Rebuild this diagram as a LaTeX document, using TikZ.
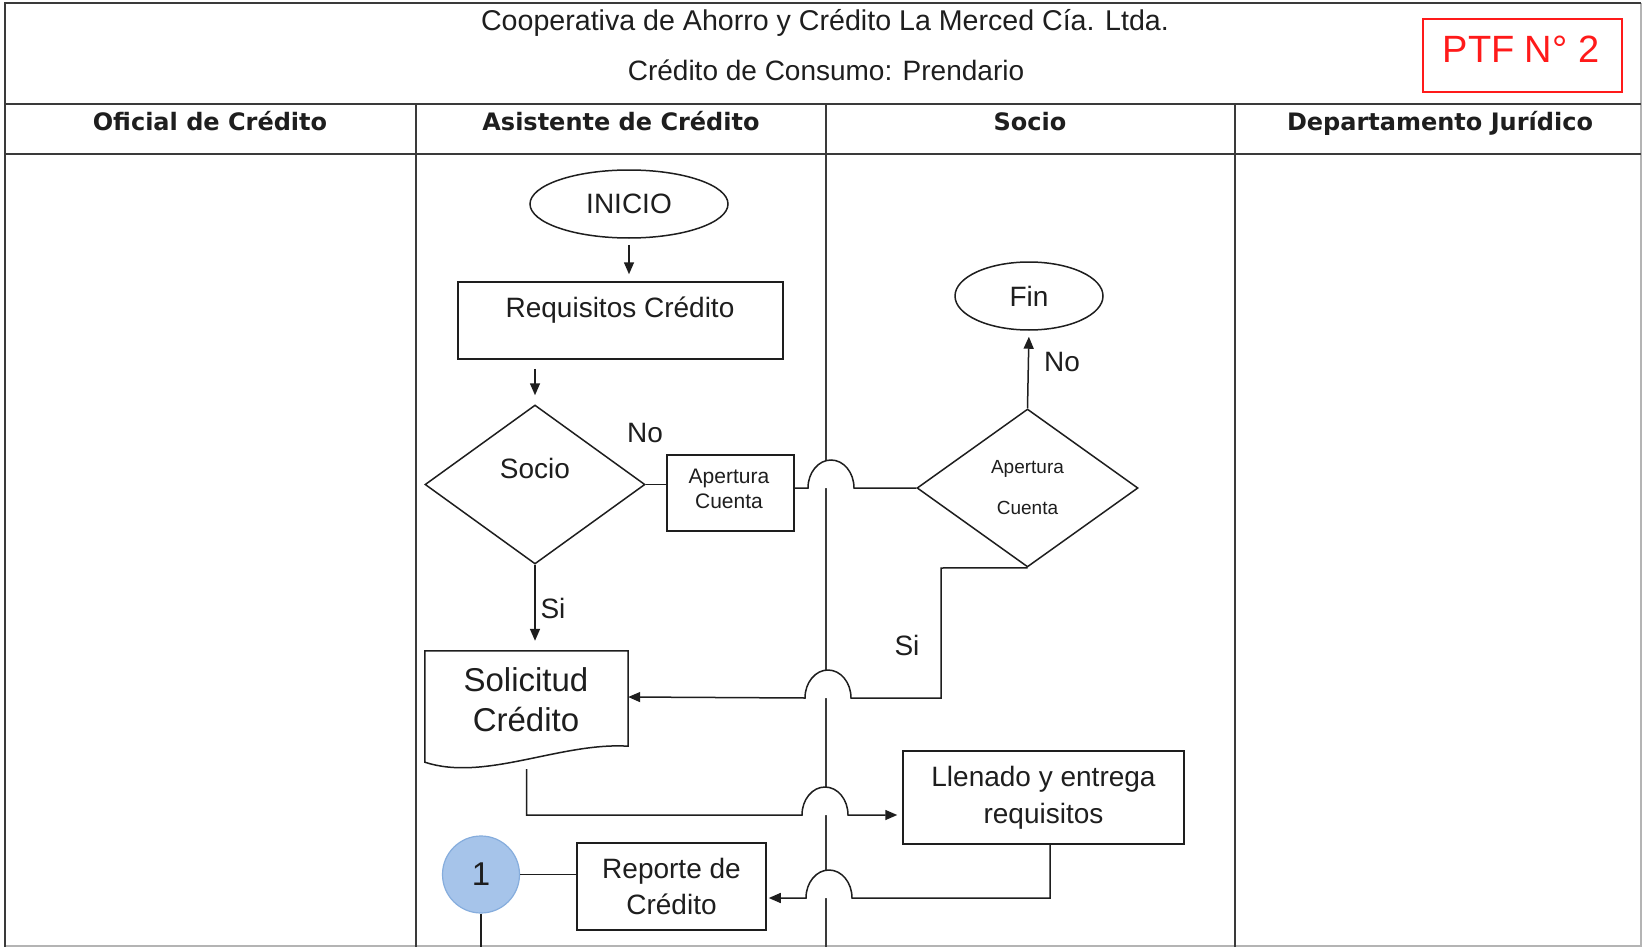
\documentclass[tikz,border=0pt]{standalone}
\usepackage{fontspec}
\setmainfont{Liberation Sans}
\newfontfamily\hdrfont{DejaVu Sans}
\usetikzlibrary{shapes.geometric,arrows.meta}
\definecolor{ink}{HTML}{1E1E1E}
\definecolor{rule}{HTML}{3A3A3A}
\definecolor{edgegray}{HTML}{B4B4B4}
\definecolor{ptfred}{HTML}{FF1A1A}
\definecolor{bubble}{HTML}{A6C4EA}
\definecolor{bubbleline}{HTML}{86ADDD}
\begin{document}
\begin{tikzpicture}[x=1pt,y=-1pt,
  txt/.style={font=\fontsize{28}{36}\selectfont, inner sep=0pt, align=center, text=ink},
  small/.style={font=\fontsize{21}{25}\selectfont, inner sep=0pt, align=center, text=ink},
  tiny/.style={font=\fontsize{19}{41}\selectfont, align=center, text=ink},
  hdr/.style={font=\hdrfont\bfseries\fontsize{24}{28}\selectfont, inner sep=0pt, text=ink},
  frame/.style={line width=2pt, draw=rule},
  lane/.style={line width=1.8pt, draw=rule},
  outline/.style={line width=1.5pt, draw=ink},
  box/.style={outline, rectangle, inner sep=0pt, align=center, text=ink,
    font=\fontsize{28}{36}\selectfont},
  term/.style={outline, ellipse, inner sep=0pt, text=ink, font=\fontsize{28}{36}\selectfont},
  dec/.style={outline, diamond, inner sep=0pt},
  conn/.style={line width=1.5pt, draw=ink},
  arr/.style={conn, -{Triangle[length=12pt,width=10pt]}},
]
\path[use as bounding box] (0,0) rectangle (1643,947);
\fill[white] (0,0) rectangle (1643,947);

% table frame and swimlane grid
\draw[line width=1.2pt, draw=edgegray] (1641,3) -- (1641,946) -- (5,946);
\draw[frame] (5,947) -- (5,3) -- (1641,3);
\draw[frame] (5,104) -- (1641,104);
\draw[frame] (5,154) -- (1641,154);
\foreach \x in {416,826,1235} \draw[lane] (\x,104) -- (\x,947);

% title block
\node[txt, anchor=base, font=\fontsize{28.6}{36}\selectfont] (t1) at (825,31) {Cooperativa de Ahorro y Crédito La Merced Cía. Ltda.};
\node[txt, anchor=base] (t2) at (826,81) {Crédito de Consumo: Prendario};
\node[draw=ptfred, line width=1.5pt, minimum width=199pt, minimum height=73pt, inner sep=0pt] (ptf) at (1522.5,55.5) {};
\node[anchor=base, inner sep=0pt, text=ptfred, font=\fontsize{38}{40}\selectfont] (ptft) at (1521,63) {PTF N° 2};

% lane headers
\node[hdr, anchor=base] (h1) at (210,131) {Oficial de Crédito};
\node[hdr, anchor=base] (h2) at (621,131) {Asistente de Crédito};
\node[hdr, anchor=base] (h3) at (1030,131) {Socio};
\node[hdr, anchor=base] (h4) at (1440,131) {Departamento Jurídico};

% flow shapes
\node[term, minimum width=198pt, minimum height=68pt] (inicio) at (629,204) {INICIO};
\node[box, minimum width=325pt, minimum height=77pt] (req) at (620.5,320.5) {};
\node[txt] (reqt) at (620,310) {Requisitos Crédito};
\node[dec, minimum width=220pt, minimum height=159pt] (socio) at (535,484.5) {};
\node[txt] (sociot) at (535,468) {Socio};
\node[box, minimum width=127pt, minimum height=76pt] (ap1) at (730.5,493) {};
\node[small] (ap1t) at (729,489) {Apertura\\Cuenta};
\node[dec, tiny, minimum width=221pt, minimum height=158pt] (ap2) at (1027.5,488) {Apertura\\Cuenta};
\node[term, minimum width=148pt, minimum height=68pt] (fin) at (1029,296) {Fin};

% document shape
\node[minimum width=203pt, minimum height=111pt, inner sep=0pt] (solic) at (526.5,706.5) {};
\draw[outline] (solic.south west) -- (solic.north west) -- (solic.north east)
  -- ([yshift=16pt]solic.south east) .. controls (560,742) and (485,782) .. (solic.south west) -- cycle;
\node[txt, font=\fontsize{33}{40}\selectfont] (solt) at (526,700) {Solicitud\\Crédito};

\node[box, minimum width=281pt, minimum height=93pt, font=\fontsize{28}{37}\selectfont] (llen) at (1043.5,797.5) {Llenado y entrega\\requisitos};
\node[box, minimum width=189pt, minimum height=87pt] (rep) at (671.5,886.5) {Reporte de\\Crédito};
\node[circle, fill=bubble, draw=bubbleline, line width=1.2pt, minimum size=77pt, inner sep=0pt,
  text=ink, font=\fontsize{33}{36}\selectfont] (one) at (481,874.5) {1};
\coordinate (oneEnd) at (481,947);

% white masks under line hops
\foreach \cx/\cy in {831/488, 828/698, 825/815, 829/898}
  \fill[white] ({\cx-23},\cy) arc[start angle=180, end angle=360, x radius=23, y radius=28] -- cycle;

% connectors
\draw[arr, shorten <=6pt, shorten >=7pt] (inicio.south) -- (inicio.south |- req.north);
\draw[arr, shorten <=9pt, shorten >=9pt] (socio.north |- req.south) -- (socio.north);
\draw[conn] (socio.east) -- (socio.east -| ap1.west);
\draw[conn] (ap1.east |- ap2.west) -- (808,488)
  arc[start angle=180, end angle=360, x radius=23, y radius=28] -- (ap2.west);
\draw[arr, shorten >=6pt] (ap2.north) -- (fin.south);
\draw[arr, shorten >=10pt] (socio.south) -- (socio.south |- solic.north);
\draw[arr] (ap2.south) -- (941,568) -- (941,698) -- (851,698)
  arc[start angle=0, end angle=-180, x radius=23, y radius=28] -- ([yshift=9.5pt]solic.east);
\draw[arr, shorten >=5pt] ([yshift=-7pt]solic.south) -- (526.5,815) -- (802,815)
  arc[start angle=180, end angle=360, x radius=23, y radius=28] -- ([yshift=-17.5pt]llen.west);
\draw[arr, shorten >=2pt] ([xshift=6.5pt]llen.south) -- (1050,898) -- (852,898)
  arc[start angle=0, end angle=-180, x radius=23, y radius=28] -- ([yshift=-11.5pt]rep.east);
\draw[conn] (one.east) -- (one.east -| rep.west);
\draw[conn] (one.south) -- (oneEnd);

% branch labels
\node[txt] (no1) at (645,433) {No};
\node[txt] (si1) at (553,608) {Si};
\node[txt] (si2) at (907,645) {Si};
\node[txt] (no2) at (1062,362) {No};
\end{tikzpicture}
\end{document}
